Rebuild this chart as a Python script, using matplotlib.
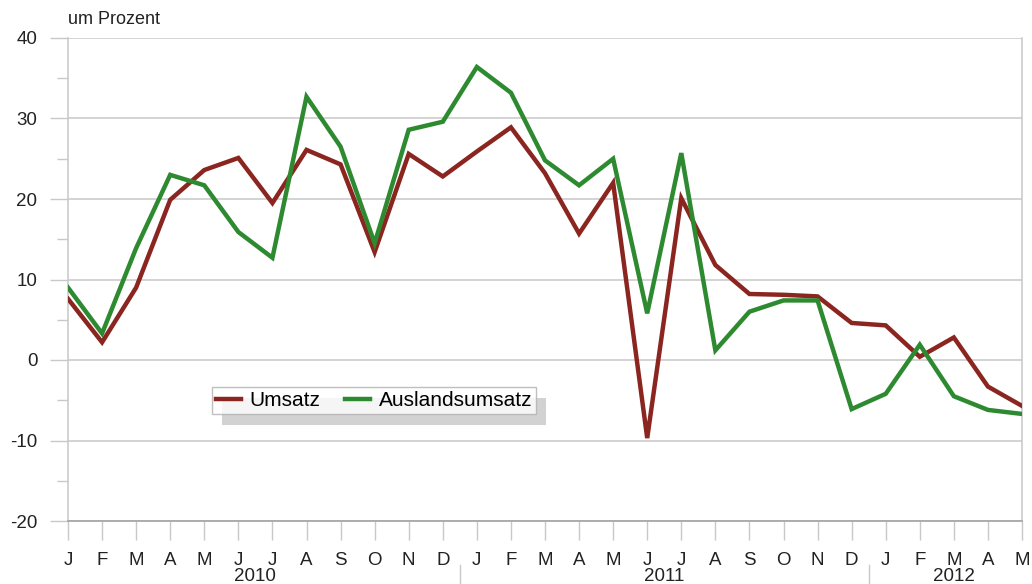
import numpy as np
import matplotlib
matplotlib.use("Agg")
import matplotlib.pyplot as plt
import matplotlib.transforms as mtransforms
from matplotlib.patches import Rectangle

plt.rcParams['font.family'] = ['Liberation Sans', 'DejaVu Sans']
plt.rcParams['axes.unicode_minus'] = False

# %% data (Veraenderung gegenueber Vorjahresmonat, um Prozent)
months = ['J', 'F', 'M', 'A', 'M', 'J', 'J', 'A', 'S', 'O', 'N', 'D',
          'J', 'F', 'M', 'A', 'M', 'J', 'J', 'A', 'S', 'O', 'N', 'D',
          'J', 'F', 'M', 'A', 'M']
years = ['2010', '2011', '2012']
year_start = [0, 12, 24]

umsatz = [7.6, 2.2, 9.0, 19.9, 23.6, 25.1, 19.5, 26.1, 24.3, 13.4, 25.6, 22.8,
          25.9, 28.9, 23.2, 15.7, 22.0, -9.7, 20.1, 11.8, 8.2, 8.1, 7.9, 4.6,
          4.3, 0.4, 2.8, -3.3, -5.7]
auslandsumsatz = [9.0, 3.3, 13.9, 23.0, 21.7, 15.9, 12.7, 32.7, 26.5, 14.5, 28.6, 29.6,
                  36.4, 33.2, 24.8, 21.7, 25.0, 5.8, 25.7, 1.2, 6.0, 7.4, 7.4, -6.1,
                  -4.2, 1.9, -4.5, -6.2, -6.7]

red = '#8b2520'
green = '#2e8a30'
grid_col = '#c8c8c8'

# %% plot
W, H = 1032, 584
fig = plt.figure(figsize=(W / 100, H / 100), dpi=100)
ax = fig.add_axes([68 / W, 1 - 521 / H, (1022 - 68) / W, (521 - 38) / H])

x = np.arange(len(months))
ax.plot(x, umsatz, color=red, lw=3.2, label='Umsatz', zorder=3,
        solid_joinstyle='miter')
ax.plot(x, auslandsumsatz, color=green, lw=3.2, label='Auslandsumsatz', zorder=3,
        solid_joinstyle='miter')

ax.set_xlim(0, len(months) - 1)
ax.set_ylim(-20, 40)

ax.set_yticks(np.arange(-20, 41, 10))
ax.set_yticks(np.arange(-15, 40, 10), minor=True)
ax.grid(axis='y', which='major', color=grid_col, lw=1.1, zorder=1)
ax.tick_params(axis='y', which='major', length=13, width=1, color=grid_col,
               labelsize=13.5, labelcolor='#222222', pad=9)
ax.tick_params(axis='y', which='minor', length=8, width=1, color=grid_col)

ax.set_xticks(x)
ax.set_xticklabels(months)
ax.tick_params(axis='x', length=14, width=1, color=grid_col,
               labelsize=13.5, labelcolor='#222222', pad=8)

for side in ['left', 'right', 'top']:
    ax.spines[side].set_color(grid_col)
    ax.spines[side].set_linewidth(1.1)
ax.spines['top'].set_visible(False)
ax.spines['bottom'].set_color('#a8a8a8')
ax.spines['bottom'].set_linewidth(1.3)

# year labels and separators below the month labels
trans = mtransforms.blended_transform_factory(ax.transData, ax.transAxes)
ends = year_start[1:] + [len(months)]
for yr, s, e in zip(years, year_start, ends):
    ax.text((s + e - 1) / 2, -0.114, yr, transform=trans, ha='center', va='center',
            fontsize=13.5, color='#222222')
for s in year_start[1:]:
    ax.plot([s - 0.5, s - 0.5], [-0.092, -0.14], transform=trans, color=grid_col,
            lw=1, clip_on=False)

fig.text(68 / W, 1 - 20 / H, 'um Prozent', ha='left', va='center',
         fontsize=13, color='#222222')

leg = ax.legend(loc='upper left', bbox_to_anchor=(212 / W, 1 - 387 / H),
                bbox_transform=fig.transFigure, ncol=2, frameon=True,
                fancybox=False, fontsize=15, handlelength=1.2, handletextpad=0.4,
                columnspacing=1.2, borderpad=0.2, borderaxespad=0)
leg.get_frame().set_edgecolor('#b0b0b0')
leg.get_frame().set_linewidth(1)
leg.set_zorder(6)

# offset grey shadow behind the legend box
fig.canvas.draw()
bb = leg.get_window_extent()
shadow = Rectangle((bb.x0 + 10, bb.y0 - 11), bb.width, bb.height,
                   transform=None, facecolor='#d2d2d2', edgecolor='none',
                   zorder=5, clip_on=False)
ax.add_artist(shadow)

fig.savefig('out.png', dpi=100)
